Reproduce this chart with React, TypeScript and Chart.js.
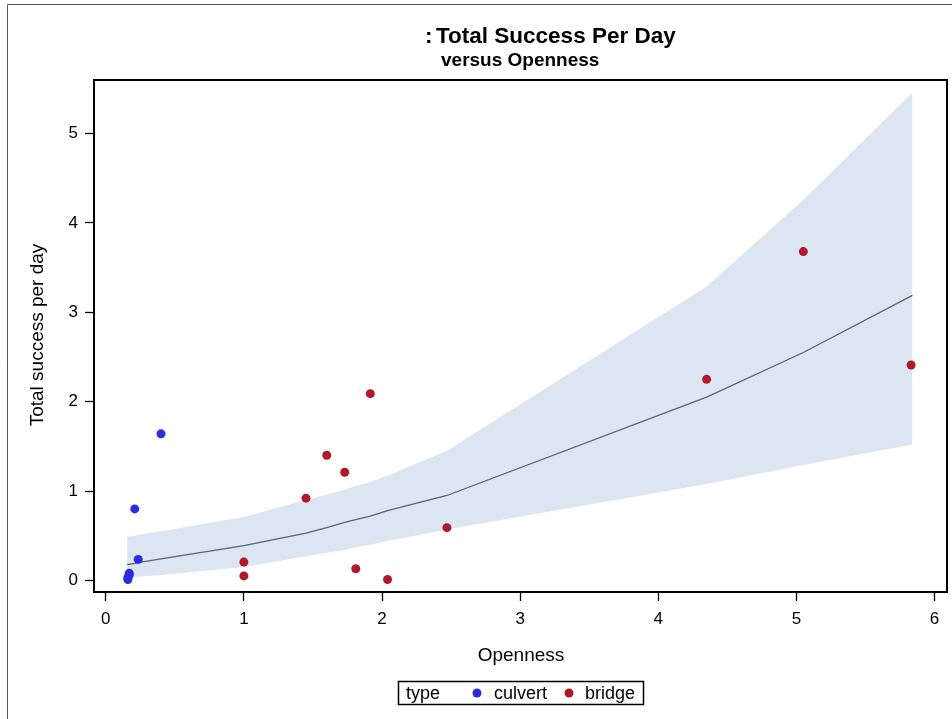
import { useEffect, useRef } from "react";
import { Chart, registerables } from "chart.js";

Chart.register(...registerables);

// ---- data ----
const xTickValues = [0, 1, 2, 3, 4, 5, 6];
const yTickValues = [0, 1, 2, 3, 4, 5];

const culvertX = [0.40, 0.21, 0.235, 0.17, 0.17, 0.16, 0.16];
const culvertY = [1.64, 0.80, 0.235, 0.08, 0.06, 0.03, 0.01];

const bridgeX = [1.00, 1.00, 1.45, 1.60, 1.73, 1.915, 1.81, 2.04, 2.47, 4.35, 5.05, 5.83];
const bridgeY = [0.205, 0.05, 0.92, 1.40, 1.21, 2.09, 0.13, 0.01, 0.59, 2.25, 3.68, 2.41];

const fitX = [0.155, 0.17, 0.21, 0.235, 0.40, 1.00, 1.45, 1.60, 1.73, 1.81, 1.915, 2.04, 2.47, 4.35, 5.05, 5.84];
const fitY = [0.18, 0.18, 0.19, 0.20, 0.24, 0.39, 0.53, 0.59, 0.65, 0.68, 0.72, 0.78, 0.95, 2.05, 2.55, 3.19];
const upperY = [0.49, 0.49, 0.50, 0.51, 0.55, 0.71, 0.90, 0.96, 1.015, 1.055, 1.10, 1.17, 1.45, 3.29, 4.26, 5.46];
const lowerY = [0.03, 0.03, 0.04, 0.04, 0.06, 0.15, 0.27, 0.31, 0.34, 0.37, 0.40, 0.44, 0.57, 1.08, 1.29, 1.52];

const legendTitle = "type";
const seriesNames = ["culvert", "bridge"];
const seriesColors = ["#2B2BE0", "#B2182B"];
const titleText = "Total Success Per Day";
const subtitleText = "versus Openness";
const xTitle = "Openness";
const yTitle = "Total success per day";

const FONT = '"Liberation Sans", Arial, Helvetica, sans-serif';

const pts = (xs: number[], ys: number[]) => xs.map((x, i) => ({ x, y: ys[i] }));

const decor = {
  id: "decor",
  afterDraw(chart: any) {
    const ctx = chart.ctx as CanvasRenderingContext2D;
    const a = chart.chartArea;
    ctx.save();
    // outer page border (left and top)
    ctx.strokeStyle = "#555";
    ctx.lineWidth = 1;
    ctx.beginPath();
    ctx.moveTo(7.5, 719);
    ctx.lineTo(7.5, 4.5);
    ctx.lineTo(952, 4.5);
    ctx.stroke();

    // plot frame
    ctx.strokeStyle = "#000";
    ctx.lineWidth = 2;
    ctx.strokeRect(a.left, a.top, a.right - a.left, a.bottom - a.top);

    // titles
    ctx.fillStyle = "#000";
    ctx.textAlign = "left";
    ctx.textBaseline = "alphabetic";
    ctx.font = `bold 22.5px ${FONT}`;
    ctx.fillText(":", 425, 43);
    ctx.fillText(titleText, 436, 43);
    ctx.font = `bold 19px ${FONT}`;
    ctx.fillText(subtitleText, 441, 66);

    // axis titles
    ctx.font = `19px ${FONT}`;
    ctx.textAlign = "center";
    ctx.fillText(xTitle, 521, 661);
    ctx.save();
    ctx.translate(43, 335);
    ctx.rotate(-Math.PI / 2);
    ctx.fillText(yTitle, 0, 0);
    ctx.restore();

    // legend
    ctx.lineWidth = 1.5;
    ctx.strokeStyle = "#000";
    ctx.strokeRect(398.5, 681.5, 245, 23);
    ctx.textAlign = "left";
    ctx.font = `18px ${FONT}`;
    ctx.fillText(legendTitle, 406, 699);
    const markerX = [477, 569];
    const textX = [494, 585];
    seriesNames.forEach((name, i) => {
      ctx.fillStyle = seriesColors[i];
      ctx.beginPath();
      ctx.arc(markerX[i], 693, 4.5, 0, Math.PI * 2);
      ctx.fill();
      ctx.fillStyle = "#000";
      ctx.fillText(name, textX[i], 699);
    });
    ctx.restore();
  },
};

export default function App() {
  const ref = useRef<HTMLCanvasElement | null>(null);
  useEffect(() => {
    if (!ref.current) return;
    const chart = new Chart(ref.current, {
      type: "scatter",
      data: {
        datasets: [
          {
            type: "line",
            label: "upper",
            data: pts(fitX, upperY),
            borderWidth: 0,
            borderColor: "rgba(0,0,0,0)",
            backgroundColor: "#DCE5F2",
            pointRadius: 0,
            fill: "+1",
            tension: 0,
            order: 5,
          },
          {
            type: "line",
            label: "lower",
            data: pts(fitX, lowerY),
            borderWidth: 0,
            borderColor: "rgba(0,0,0,0)",
            pointRadius: 0,
            fill: false,
            tension: 0,
            order: 4,
          },
          {
            type: "line",
            label: "fit",
            data: pts(fitX, fitY),
            borderWidth: 1.3,
            borderColor: "#5B6370",
            pointRadius: 0,
            fill: false,
            tension: 0,
            order: 3,
          },
          {
            label: seriesNames[0],
            data: pts(culvertX, culvertY),
            backgroundColor: seriesColors[0],
            borderColor: seriesColors[0],
            pointRadius: 4.5,
            borderWidth: 0,
            order: 2,
          },
          {
            label: seriesNames[1],
            data: pts(bridgeX, bridgeY),
            backgroundColor: seriesColors[1],
            borderColor: seriesColors[1],
            pointRadius: 4.5,
            borderWidth: 0,
            order: 1,
          },
        ],
      },
      options: {
        animation: false,
        responsive: false,
        devicePixelRatio: 1,
        layout: { padding: { top: 80, right: 5, left: 0, bottom: 0 } },
        plugins: {
          legend: { display: false },
          title: { display: false },
          tooltip: { enabled: false },
        },
        scales: {
          x: {
            type: "linear",
            min: -0.085,
            max: 6.09,
            afterFit: (s: any) => {
              s.height = 127;
            },
            afterBuildTicks: (s: any) => {
              s.ticks = xTickValues.map((v) => ({ value: v }));
            },
            border: { display: false },
            grid: {
              drawOnChartArea: false,
              drawTicks: true,
              tickLength: 9,
              tickColor: "#000",
              tickWidth: 1.3,
            },
            ticks: {
              color: "#000",
              font: { family: FONT, size: 17 },
              padding: 8,
              includeBounds: false,
            },
          },
          y: {
            type: "linear",
            min: -0.13,
            max: 5.6,
            afterFit: (s: any) => {
              s.width = 94;
            },
            afterBuildTicks: (s: any) => {
              s.ticks = yTickValues.map((v) => ({ value: v }));
            },
            border: { display: false },
            grid: {
              drawOnChartArea: false,
              drawTicks: true,
              tickLength: 9,
              tickColor: "#000",
              tickWidth: 1.3,
            },
            ticks: {
              color: "#000",
              font: { family: FONT, size: 17 },
              padding: 7,
              includeBounds: false,
            },
          },
        },
      },
      plugins: [decor],
    } as any);
    return () => chart.destroy();
  }, []);
  return (
    <div style={{ position: "absolute", left: 0, top: 0, width: 952, height: 719, background: "#fff" }}>
      <canvas ref={ref} width={952} height={719} style={{ display: "block" }} />
    </div>
  );
}
